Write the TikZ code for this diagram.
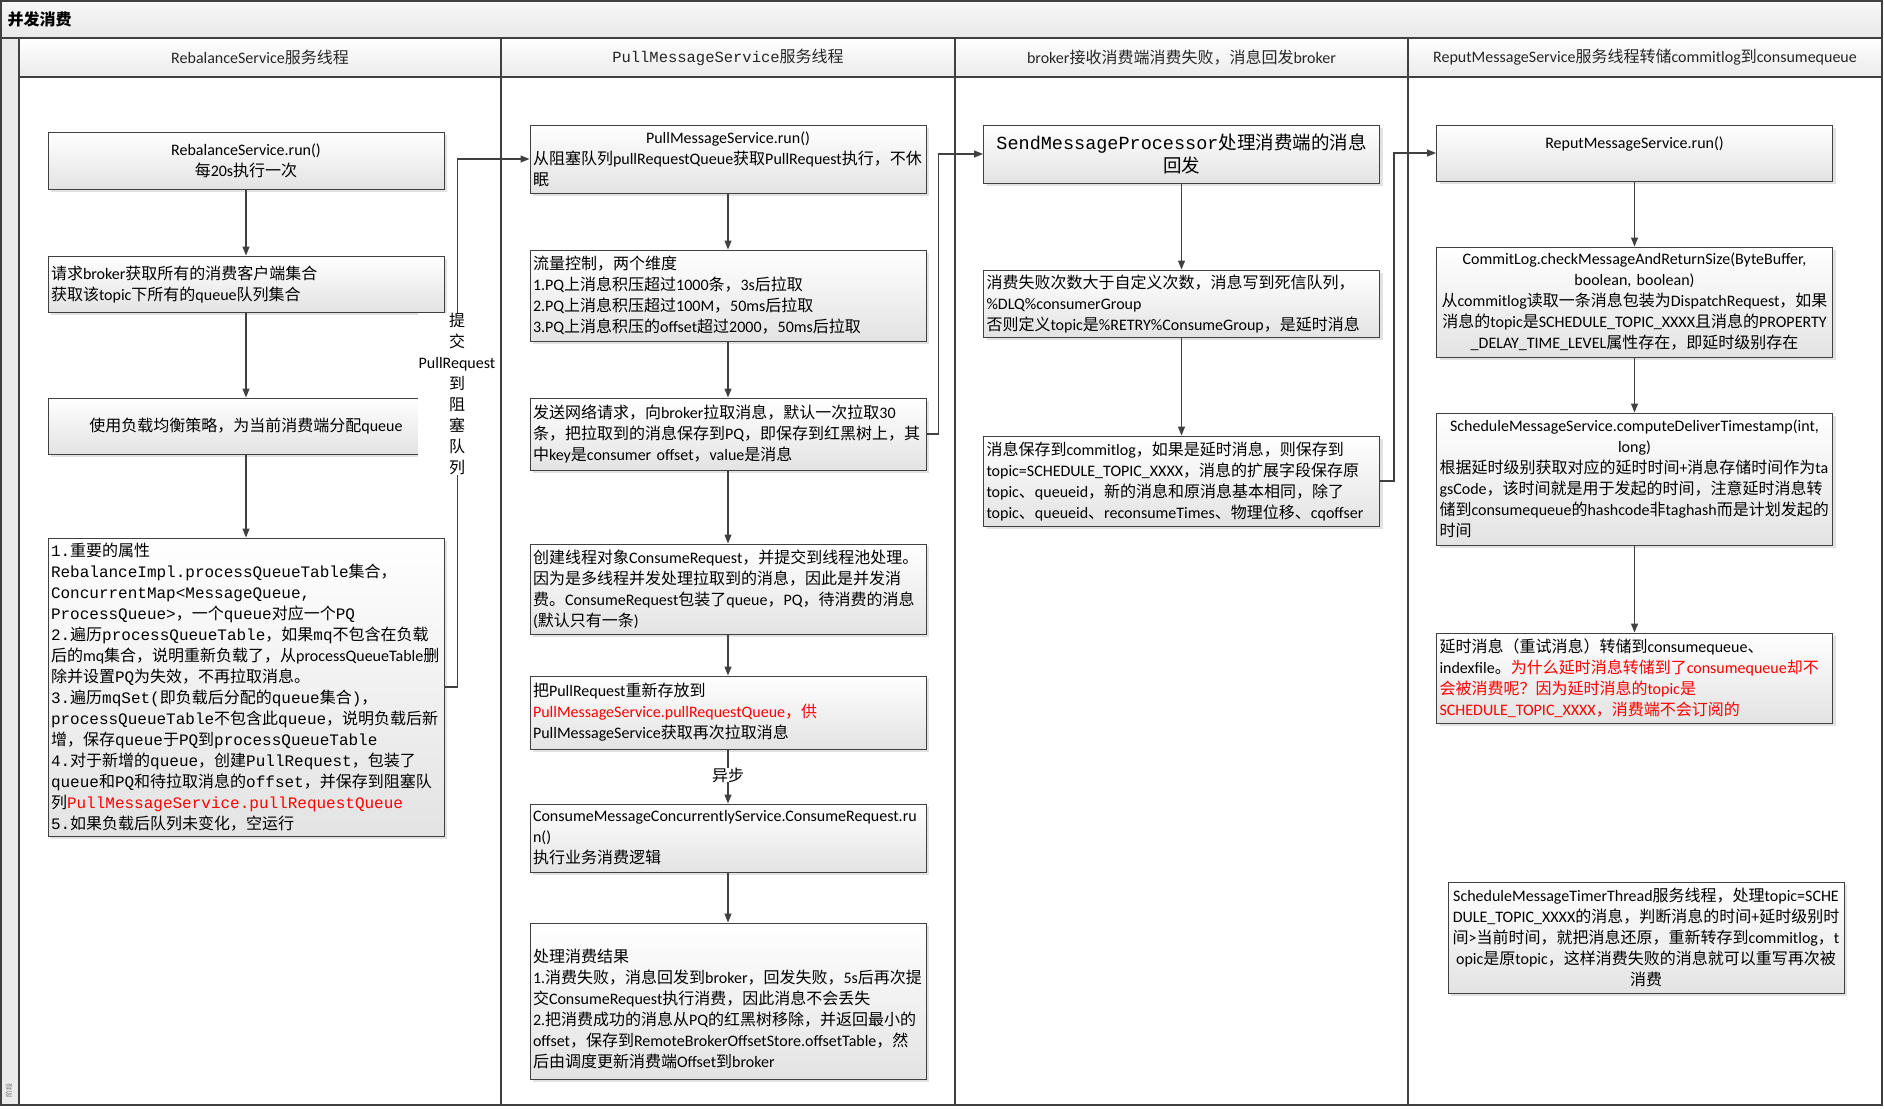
\documentclass[tikz,border=0pt]{standalone}
\usepackage{fontspec}
\setmainfont{Carlito}
\newfontfamily\latf{Carlito}
\newfontfamily\cjkf{Noto Sans CJK SC}
\newfontfamily\monof{Liberation Mono}
\let\curlat\latf
\newcommand\m[1]{{\let\curlat\monof\monof #1}}
\usetikzlibrary{arrows.meta,shadows}
% automatic switching between Latin and CJK fonts
\XeTeXinterchartokenstate=1
\chardef\cjkcls=77
\newcount\cjkcnt
\cjkcnt="2E80
\loop \XeTeXcharclass\cjkcnt=\cjkcls \advance\cjkcnt by 1 \ifnum\cjkcnt<"A000 \repeat
\cjkcnt="FF00
\loop \XeTeXcharclass\cjkcnt=\cjkcls \advance\cjkcnt by 1 \ifnum\cjkcnt<"FFF0 \repeat
\XeTeXinterchartoks 0 \cjkcls = {\cjkf}
\XeTeXinterchartoks 4095 \cjkcls = {\cjkf}
\XeTeXinterchartoks \cjkcls 0 = {\curlat}
\XeTeXinterchartoks 4095 0 = {\curlat}
\newcommand\fs{\fontsize{16}{21}\selectfont}
\definecolor{linegray}{RGB}{64,64,64}
\tikzset{
  box/.style={draw=linegray, line width=1pt, top color=white, bottom color=black!11,
    drop shadow={shadow xshift=3pt,shadow yshift=-3pt,fill=black!25,opacity=0.45},
    minimum width=396pt, text width=390pt, inner xsep=3pt, inner ysep=1pt, font=\fs, text=black},
  conn/.style={draw=linegray, line width=1.1pt, -{Triangle[length=9pt,width=7pt]}},
  lbl/.style={fill=white, inner xsep=1pt, inner ysep=0pt, font=\fs},
  hdr/.style={font=\fs, text=black!85},
}
\begin{document}
\begin{tikzpicture}[x=1pt,y=-1pt]
\useasboundingbox (0,0) rectangle (1884,1108);
% pool frame
\shade[top color=black!3, bottom color=black!9] (1,1) rectangle (1882,38);
\shade[top color=white, bottom color=black!8] (19,38) rectangle (1882,77);
\fill[black!8] (1,38) rectangle (19,1105);
\draw[linegray, line width=1.3pt] (1,1) rectangle (1882,1105);
\draw[linegray, line width=1.3pt] (1,38) -- (1882,38);
\draw[linegray, line width=1.3pt] (19,77) -- (1882,77);
\foreach \xx in {19,501,955,1408} \draw[linegray, line width=1.3pt] (\xx,38) -- (\xx,1105);
\node[font=\fs\bfseries, anchor=west] (title) at (4,19.5) {并发消费};
\node[rotate=90, font=\fontsize{7}{8}\selectfont, text=black!55] (stage) at (9,1090) {阶段};
\node[hdr] (h1) at (260,57.5) {RebalanceService服务线程};
\node[hdr] (h2) at (728,57.5) {\m{\fontsize{15.5}{20}\selectfont PullMessageService}服务线程};
\node[hdr] (h3) at (1181.5,57.5) {broker接收消费端消费失败，消息回发broker};
\node[hdr] (h4) at (1645,57.5) {ReputMessageService服务线程转储commitlog到consumequeue};
% lane 1
\node[box, minimum height=57pt, align=center] (n1) at (246,160.5) {RebalanceService.run()\\每20s执行一次};
\node[box, minimum height=56pt, align=left] (n2) at (246,284) {请求broker获取所有的消费客户端集合\\获取该topic下所有的queue队列集合};
\node[box, minimum height=56pt, align=center] (n3) at (246,426) {使用负载均衡策略，为当前消费端分配queue};
\node[box, minimum height=298pt, align=left] (n4) at (246,687) {\m{1.重要的属性}\\
\m{RebalanceImpl.processQueueTable集合，}\\
\m{ConcurrentMap<MessageQueue,}\\
\m{ProcessQueue>，一个queue对应一个PQ}\\
\m{2.遍历processQueueTable，如果mq不包含在负载}\\
后的mq集合，说明重新负载了，从processQueueTable删\\
除并设置\m{PQ}为失效，不再拉取消息。\\
\m{3.遍历mqSet(即负载后分配的queue集合)，}\\
\m{processQueueTable不包含此queue，说明负载后新}\\
\m{增，保存queue于PQ到processQueueTable}\\
\m{4.对于新增的queue，创建PullRequest，包装了}\\
\m{queue和PQ和待拉取消息的offset，并保存到阻塞队}\\
列\textcolor{red}{\m{PullMessageService.pullRequestQueue}}\\
\m{5.如果负载后队列未变化，空运行}};
% lane 2
\node[box, minimum height=68pt, align=left] (n5) at (728,159) {\makebox[390pt]{PullMessageService.run()}\\从阻塞队列pullRequestQueue获取PullRequest执行，不休\\眠};
\node[box, minimum height=91pt, align=left] (n6) at (728,295.5) {流量控制，两个维度\\1.PQ上消息积压超过1000条，3s后拉取\\2.PQ上消息积压超过100M，50ms后拉取\\3.PQ上消息积压的offset超过2000，50ms后拉取};
\node[box, minimum height=72pt, align=left] (n7) at (728,434) {发送网络请求，向broker拉取消息，默认一次拉取30\\条，把拉取到的消息保存到PQ，即保存到红黑树上，其\\中key是consumer offset，value是消息};
\node[box, minimum height=90pt, align=left] (n8) at (728,589) {创建线程对象ConsumeRequest，并提交到线程池处理。\\因为是多线程并发处理拉取到的消息，因此是并发消\\费。ConsumeRequest包装了queue，PQ，待消费的消息\\(默认只有一条)};
\node[box, minimum height=73pt, align=left] (n9) at (728,712.5) {把PullRequest重新存放到\\\textcolor{red}{PullMessageService.pullRequestQueue，供}\\PullMessageService获取再次拉取消息};
\node[box, minimum height=68pt, align=left] (n10) at (728,838) {ConsumeMessageConcurrentlyService.ConsumeRequest.ru\\n()\\执行业务消费逻辑};
\node[box, minimum height=156pt, align=left] (n11) at (728,1001) {\rule{0pt}{30pt}处理消费结果\\1.消费失败，消息回发到broker，回发失败，5s后再次提\\交ConsumeRequest执行消费，因此消息不会丢失\\2.把消费成功的消息从PQ的红黑树移除，并返回最小的\\offset，保存到RemoteBrokerOffsetStore.offsetTable，然\\后由调度更新消费端Offset到broker};
% lane 3
\node[box, minimum height=58pt, align=center, font=\fontsize{18.5}{23}\selectfont] (n12) at (1181.5,154) {\m{SendMessageProcessor处理消费端的消息}\\回发};
\node[box, minimum height=67pt, align=left] (n13) at (1181.5,303.5) {消费失败次数大于自定义次数，消息写到死信队列，\\\%DLQ\%consumerGroup\\否则定义topic是\%RETRY\%ConsumeGroup，是延时消息};
\node[box, minimum height=90pt, align=left] (n14) at (1181.5,481) {消息保存到commitlog，如果是延时消息，则保存到\\topic=SCHEDULE\_TOPIC\_XXXX，消息的扩展字段保存原\\topic、queueid，新的消息和原消息基本相同，除了\\topic、queueid、reconsumeTimes、物理位移、cqoffser};
% lane 4
\node[box, minimum height=56pt, align=center] (n15) at (1634.5,153) {ReputMessageService.run()\\\mbox{}};
\node[box, minimum height=110pt, align=center] (n16) at (1634.5,302) {CommitLog.checkMessageAndReturnSize(ByteBuffer,\\boolean, boolean)\\从commitlog读取一条消息包装为DispatchRequest，如果\\消息的topic是SCHEDULE\_TOPIC\_XXXX且消息的PROPERTY\\\_DELAY\_TIME\_LEVEL属性存在，即延时级别存在};
\node[box, minimum height=132pt, align=left] (n17) at (1634.5,479) {\makebox[390pt]{ScheduleMessageService.computeDeliverTimestamp(int,}\\\makebox[390pt]{long)}\\根据延时级别获取对应的延时时间+消息存储时间作为ta\\gsCode，该时间就是用于发起的时间，注意延时消息转\\储到consumequeue的hashcode非taghash而是计划发起的\\时间};
\node[box, minimum height=90pt, align=left] (n18) at (1634.5,678) {延时消息（重试消息）转储到consumequeue、\\indexfile。\textcolor{red}{为什么延时消息转储到了consumequeue却不}\\\textcolor{red}{会被消费呢？因为延时消息的topic是}\\\textcolor{red}{SCHEDULE\_TOPIC\_XXXX，消费端不会订阅的}};
\node[box, minimum height=111pt, align=center] (n19) at (1646,937.5) {ScheduleMessageTimerThread服务线程，处理topic=SCHE\\DULE\_TOPIC\_XXXX的消息，判断消息的时间+延时级别时\\间>当前时间，就把消息还原，重新转存到commitlog，t\\opic是原topic，这样消费失败的消息就可以重写再次被\\消费};
% connectors
\draw[conn] (n1.south) -- (n2.north);
\draw[conn] (n2.south) -- (n3.north);
\draw[conn] (n3.south) -- (n4.north);
\draw[conn] (n4.east) -- ++(13,0) |- (n5.west);
\draw[conn] (n5.south) -- (n6.north);
\draw[conn] (n6.south) -- (n7.north);
\draw[conn] (n7.south) -- (n8.north);
\draw[conn] (n8.south) -- (n9.north);
\draw[conn] (n9.south) -- (n10.north);
\draw[conn] (n10.south) -- (n11.north);
\draw[conn] (n7.east) -- ++(12,0) |- (n12.west);
\draw[conn] (n12.south) -- (n13.north);
\draw[conn] (n13.south) -- (n14.north);
\draw[conn] (n14.east) -- ++(14,0) |- (n15.west);
\draw[conn] (n15.south) -- (n16.north);
\draw[conn] (n16.south) -- (n17.north);
\draw[conn] (n17.south) -- (n18.north);
% connector labels
\node[lbl, align=center] (lab1) at (457,394) {提\\交\\PullRequest\\到\\阻\\塞\\队\\列};
\node[lbl] (lab2) at (728,775) {异步};
\end{tikzpicture}
\end{document}
